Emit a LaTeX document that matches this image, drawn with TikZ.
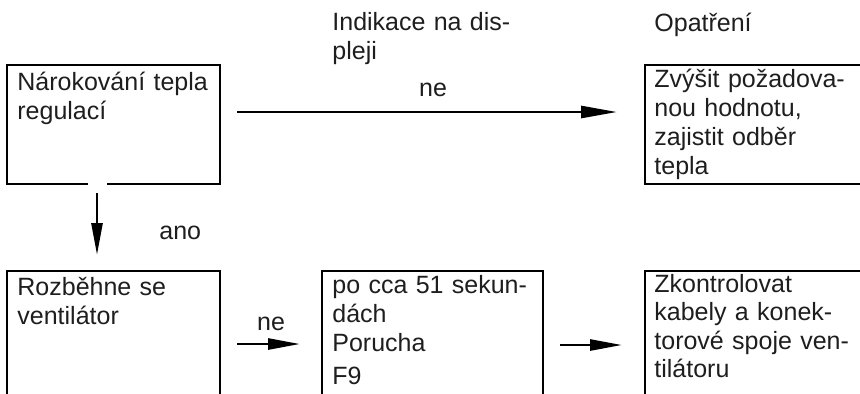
\documentclass[tikz,border=0pt]{standalone}
\usepackage{fontspec}
\setmainfont{Liberation Sans}
\usetikzlibrary{arrows.meta}
\definecolor{ink}{HTML}{1E1E1E}
\begin{document}
\begin{tikzpicture}[x=0.5pt,y=-0.5pt,
  frame/.style={draw=black, line width=1.15pt, inner sep=0pt, outer sep=0pt, anchor=north west},
  openframe/.style={inner sep=0pt, outer sep=0pt, anchor=north west},
  edge/.style={draw=black, line width=1.15pt, line join=miter},
  txt/.style={anchor=base west, inner sep=0pt, text=ink, text width=150pt, align=left,
    font=\fontsize{12.5pt}{14.5pt}\selectfont},
  lbl/.style={inner sep=0pt, text=ink, font=\fontsize{12.5pt}{14.5pt}\selectfont},
  arr/.style={draw=black, line width=1.35pt, -{Triangle[length=16pt,width=5.5pt]}},
]
\useasboundingbox (0,0) rectangle (860,393);
\clip (0,0) rectangle (860,393);

% column headings
\node[txt] (h1) at (332,30) {Indikace na dis-\\pleji};
\node[txt] (h2) at (654,31) {Opatření};

% upper row
\node[frame, minimum width=106.5pt, minimum height=59.5pt] (b1) at (7,65) {};
\node[frame, minimum width=130pt, minimum height=59.5pt] (r1) at (645,65) {};
% small break in the lower edge above the downward arrow
\draw[white, line width=1.6pt] ([shift={(81,0)}]b1.south west) -- ([shift={(100,0)}]b1.south west);

\node[txt] (t1) at ([shift={(10,25)}]b1.north west) {Nárokování tepla\\regulací};
\node[txt] (t2) at ([shift={(9,22)}]r1.north west) {Zvýšit požadova-\\nou hodnotu,\\zajistit odběr\\tepla};

% lower row, boxes open at the bottom
\node[openframe, minimum width=106.5pt, minimum height=75pt] (b2) at (7,271) {};
\node[openframe, minimum width=110.5pt, minimum height=75pt] (b3) at (322,271) {};
\node[openframe, minimum width=130pt, minimum height=75pt] (r2) at (645,271) {};
\draw[edge] (b2.south west) |- (b2.north east) -- (b2.south east);
\draw[edge] (b3.south west) |- (b3.north east) -- (b3.south east);
\draw[edge] (r2.south west) |- (r2.north east) -- (r2.south east);

\node[txt] (t3) at ([shift={(10,24)}]b2.north west) {Rozběhne se\\ventilátor};
\node[txt] (t4) at ([shift={(10,22)}]b3.north west) {po cca 51 sekun-\\dách\\Porucha\\[2pt]F9};
\node[txt, font=\fontsize{12.5pt}{14.25pt}\selectfont] (t5) at ([shift={(9,21)}]r2.north west) {Zkontrolovat\\kabely a konek-\\torové spoje ven-\\tilátoru};

% connectors
\draw[arr, -{Triangle[length=18pt,width=6pt]}] ([shift={(17,47)}]b1.north east) -- ([shift={(-28,47)}]r1.north west);
\draw[arr] ([shift={(90,9)}]b1.south west) -- ([shift={(90,-16)}]b2.north west);
\draw[arr] ([shift={(17,73)}]b2.north east) -- ([shift={(-22,73)}]b3.north west);
\draw[arr] ([shift={(17,74)}]b3.north east) -- ([shift={(-23,74)}]r2.north west);

% connector labels
\node[lbl, anchor=base] (l1) at (433,96) {ne};
\node[lbl, anchor=base west] (l2) at (159,239) {ano};
\node[lbl, anchor=base] (l3) at (271,330) {ne};
\end{tikzpicture}
\end{document}
